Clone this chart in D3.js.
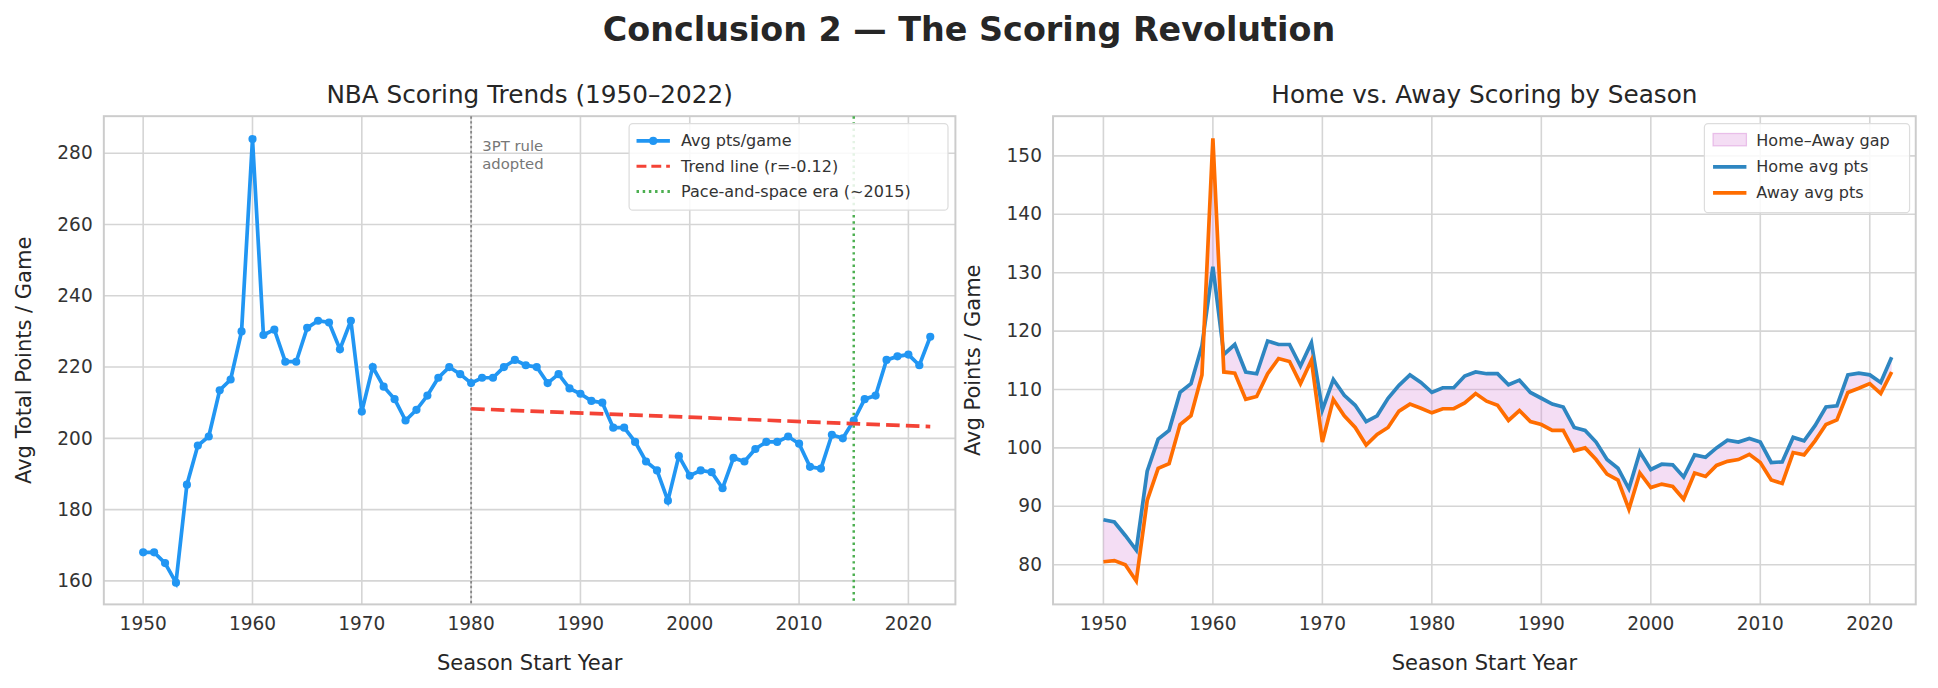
<!DOCTYPE html>
<html><head><meta charset="utf-8">
<script src="https://cdn.jsdelivr.net/npm/d3@7"></script>
<style>body{margin:0;background:#fff;font-family:"DejaVu Sans",sans-serif}</style>
</head><body><div id="chart"></div>
<script>
var years = d3.range(1950, 2023)
var totalPts = [168,168,165,159.5,187,198,200.5,213.5,216.5,230,284,229,230.5,221.5,221.5,231,233,232.5,225,233,
  207.5,220,214.5,211,205,208,212,217,220,218,215.5,217,217,220,222,220.5,220,215.5,218,214,
  212.5,210.5,210,203,203,199,193.5,191,182.5,195,189.5,191,190.5,186,194.5,193.5,197,199,199,200.5,
  198.5,192,191.5,201,200,205,211,212,222,223,223.5,220.5,228.5]
var homePts = [87.7,87.3,85,82.5,96,101.5,103,109.5,111,117.5,131,116,117.7,113,112.7,118.3,117.7,117.7,114,118,
  106.5,111.7,109,107.3,104.5,105.5,108.5,110.7,112.5,111.2,109.5,110.3,110.3,112.3,113,112.7,112.7,110.8,111.6,109.5,
  108.5,107.5,107,103.5,103,101,98,96.5,93,99.3,96.3,97.2,97.1,95,98.8,98.4,100,101.3,101,101.6,
  101,97.5,97.6,101.8,101.2,103.8,107,107.2,112.5,112.8,112.5,111.2,115.5]
var awayPts = [80.5,80.7,80,77.2,91,96.5,97.3,104,105.5,112.5,153,113,112.8,108.3,108.8,112.7,115.3,114.8,111,115,
  101,108.3,105.5,103.5,100.5,102.3,103.5,106.3,107.5,106.8,106,106.7,106.7,107.7,109.3,108,107.3,104.7,106.4,104.5,
  104,103,103,99.5,100,98,95.5,94.5,89.5,95.7,93.2,93.8,93.4,91.2,95.7,95.1,97,97.7,98,98.9,
  97.5,94.5,93.9,99.2,98.8,101.2,104,104.8,109.5,110.2,111,109.3,113]
var trendYears = [1980, 2022]
var trendVals = [208.3, 203.3]
var xTicks = [1950,1960,1970,1980,1990,2000,2010,2020]
var leftYTicks = [160,180,200,220,240,260,280]
var rightYTicks = [80,90,100,110,120,130,140,150]

var root = d3.select("#chart").append("svg").attr("width",1938).attr("height",688)
// layout below is laid out on a 1568-wide grid, scaled up to the window
var svg = root.append("g").attr("transform","scale(" + (1938/1568) + ")")

svg.append("text").attr("x",784).attr("y",33).attr("text-anchor","middle")
  .attr("font-size",27).attr("font-weight","bold").attr("fill","#262626")
  .text("Conclusion 2 \u2014 The Scoring Revolution")

function panel(left, right, ydom, xdom, yticks, title, ylabel) {
  var g = svg.append("g")
  var x = d3.scaleLinear().domain(xdom).range([left, right])
  var y = d3.scaleLinear().domain(ydom).range([489, 94])
  g.selectAll(".gx").data(xTicks).join("line").attr("x1",d=>x(d)).attr("x2",d=>x(d))
    .attr("y1",94).attr("y2",489).attr("stroke","#d5d5d5").attr("stroke-width",1.3)
  g.selectAll(".gy").data(yticks).join("line").attr("y1",d=>y(d)).attr("y2",d=>y(d))
    .attr("x1",left).attr("x2",right).attr("stroke","#d5d5d5").attr("stroke-width",1.3)
  g.append("rect").attr("x",left).attr("y",94).attr("width",right-left).attr("height",395)
    .attr("fill","none").attr("stroke","#cccccc").attr("stroke-width",1.6)
  g.selectAll(".tx").data(xTicks).join("text").attr("x",d=>x(d)).attr("y",510)
    .attr("text-anchor","middle").attr("font-size",15).attr("fill","#333").text(d=>d)
  g.selectAll(".ty").data(yticks).join("text").attr("x",left-9).attr("y",d=>y(d)+5)
    .attr("text-anchor","end").attr("font-size",15).attr("fill","#333").text(d=>d)
  g.append("text").attr("x",(left+right)/2).attr("y",83).attr("text-anchor","middle")
    .attr("font-size",20).attr("fill","#262626").text(title)
  g.append("text").attr("x",(left+right)/2).attr("y",542).attr("text-anchor","middle")
    .attr("font-size",17).attr("fill","#262626").text("Season Start Year")
  g.append("text").attr("transform","translate("+(left-59)+","+291.5+") rotate(-90)")
    .attr("text-anchor","middle").attr("font-size",17).attr("fill","#262626").text(ylabel)
  return {g:g, x:x, y:y}
}

// left panel
var L = panel(84, 773, [153.4, 290.4], [1946.4, 2024.3], leftYTicks, "NBA Scoring Trends (1950\u20132022)", "Avg Total Points / Game")
L.g.append("line").attr("x1",L.x(1980)).attr("x2",L.x(1980)).attr("y1",94).attr("y2",489)
  .attr("stroke","#888").attr("stroke-width",1.5).attr("stroke-dasharray","2,2")
L.g.append("line").attr("x1",L.x(2015)).attr("x2",L.x(2015)).attr("y1",94).attr("y2",489)
  .attr("stroke","#4caf50").attr("stroke-width",2).attr("stroke-dasharray","2,3")
L.g.append("text").attr("x",L.x(1980)+9).attr("y",122).attr("font-size",12).attr("fill","#777").text("3PT rule")
L.g.append("text").attr("x",L.x(1980)+9).attr("y",137).attr("font-size",12).attr("fill","#777").text("adopted")
L.g.append("path").datum(years)
  .attr("d", d3.line().x(d=>L.x(d)).y((d,i)=>L.y(totalPts[i])))
  .attr("fill","none").attr("stroke","#2196f3").attr("stroke-width",3)
L.g.selectAll(".pt").data(years).join("circle").attr("cx",d=>L.x(d)).attr("cy",(d,i)=>L.y(totalPts[i]))
  .attr("r",3.3).attr("fill","#2196f3")
L.g.append("path").datum(trendYears)
  .attr("d", d3.line().x(d=>L.x(d)).y((d,i)=>L.y(trendVals[i])))
  .attr("fill","none").attr("stroke","#f44336").attr("stroke-width",3).attr("stroke-dasharray","11,5")

var lg = L.g.append("g").attr("transform","translate(509,100)")
lg.append("rect").attr("width",258).attr("height",70).attr("rx",3).attr("fill","#fff").attr("fill-opacity",0.85).attr("stroke","#ddd")
var litems = [["Avg pts/game","#2196f3","none"],["Trend line (r=-0.12)","#f44336","8,4"],["Pace-and-space era (~2015)","#4caf50","2,3"]]
litems.forEach(function(it,i){
  var yy = 14+i*20.5
  lg.append("line").attr("x1",6).attr("x2",33).attr("y1",yy).attr("y2",yy).attr("stroke",it[1])
    .attr("stroke-width",i==0?3:2.5).attr("stroke-dasharray",it[2])
  if(i==0) lg.append("circle").attr("cx",19.5).attr("cy",yy).attr("r",3.3).attr("fill",it[1])
  lg.append("text").attr("x",42).attr("y",yy+4.5).attr("font-size",13).attr("fill","#333").text(it[0])
})

// right panel
var R = panel(852, 1550, [73.2, 156.8], [1945.4, 2024.2], rightYTicks, "Home vs. Away Scoring by Season", "Avg Points / Game")
R.g.append("path").datum(years)
  .attr("d", d3.area().x(d=>R.x(d)).y0((d,i)=>R.y(awayPts[i])).y1((d,i)=>R.y(homePts[i])))
  .attr("fill","#da8fda").attr("fill-opacity",0.3)
R.g.append("path").datum(years)
  .attr("d", d3.line().x(d=>R.x(d)).y((d,i)=>R.y(homePts[i])))
  .attr("fill","none").attr("stroke","#2e86c1").attr("stroke-width",3)
R.g.append("path").datum(years)
  .attr("d", d3.line().x(d=>R.x(d)).y((d,i)=>R.y(awayPts[i])))
  .attr("fill","none").attr("stroke","#ff6d00").attr("stroke-width",3)

var rg = R.g.append("g").attr("transform","translate(1379,100)")
rg.append("rect").attr("width",166).attr("height",72).attr("rx",3).attr("fill","#fff").attr("fill-opacity",0.85).attr("stroke","#ddd")
rg.append("rect").attr("x",7).attr("y",8).attr("width",27).attr("height",10).attr("fill","#da8fda").attr("fill-opacity",0.3).attr("stroke","#da8fda").attr("stroke-opacity",0.5)
rg.append("text").attr("x",42).attr("y",18).attr("font-size",13).attr("fill","#333").text("Home\u2013Away gap")
rg.append("line").attr("x1",7).attr("x2",34).attr("y1",35).attr("y2",35).attr("stroke","#2e86c1").attr("stroke-width",3)
rg.append("text").attr("x",42).attr("y",39.5).attr("font-size",13).attr("fill","#333").text("Home avg pts")
rg.append("line").attr("x1",7).attr("x2",34).attr("y1",56).attr("y2",56).attr("stroke","#ff6d00").attr("stroke-width",3)
rg.append("text").attr("x",42).attr("y",60.5).attr("font-size",13).attr("fill","#333").text("Away avg pts")
</script></body></html>
